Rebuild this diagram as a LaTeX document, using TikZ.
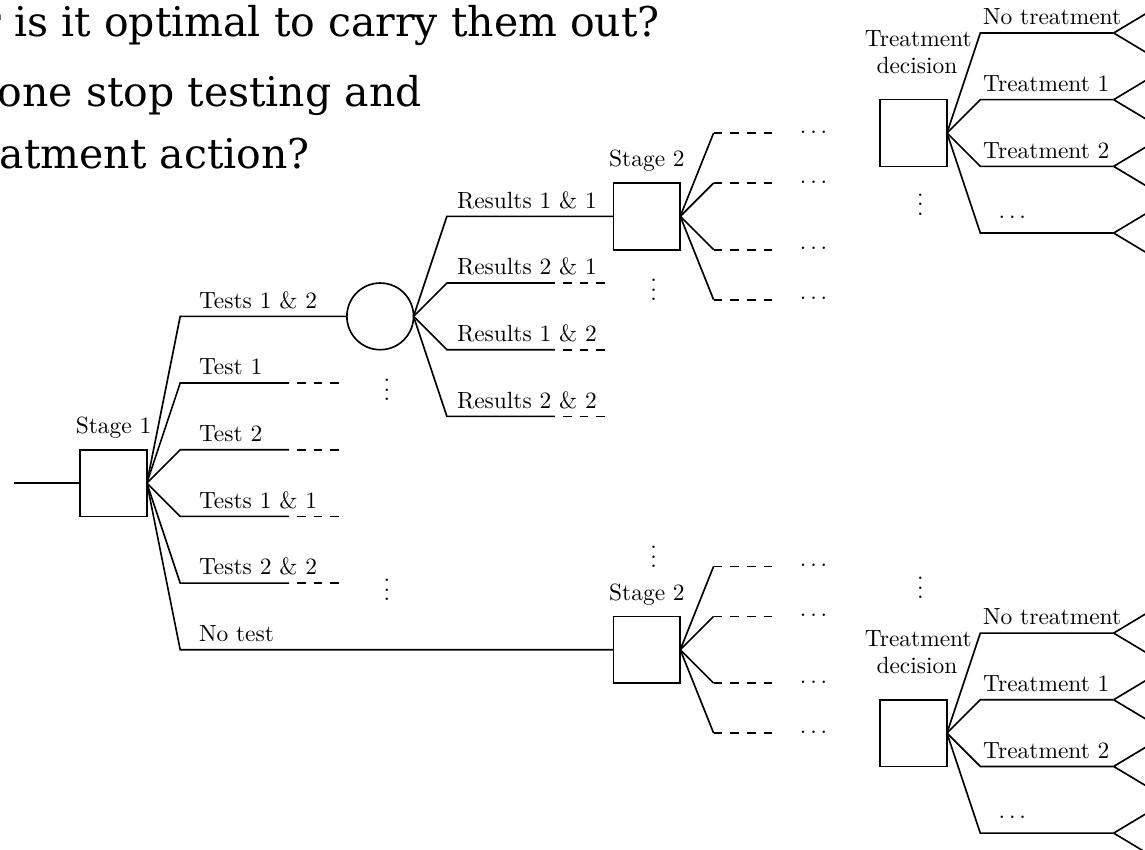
\documentclass[tikz,border=0pt]{standalone}
\usepackage{fontspec}
\newfontfamily\headfont{DejaVu Serif}
\begin{document}
\begin{tikzpicture}[
  line width=0.7pt,
  decision/.style={draw, rectangle, minimum size=1cm, inner sep=0pt, outer sep=0pt},
  chance/.style={draw, circle, minimum size=1cm, inner sep=0pt, outer sep=0pt},
  stagelabel/.style={anchor=base, inner sep=0pt},
  branchlabel/.style={anchor=base west, inner sep=0pt},
  dashtail/.style={dash pattern=on 0.13cm off 0.12cm},
  gaptail/.style={dash pattern=on 0.13cm off 0.12cm, dash phase=0.13cm},
  ellipsis/.style={inner sep=0pt},
  heading/.style={anchor=base west, inner sep=0pt, font=\headfont\fontsize{17.5}{20}\selectfont},
]
% page frame
\useasboundingbox (-1.7025,-5.49) rectangle (15.47,7.245);
\clip (-1.7025,-5.49) rectangle (15.47,7.245);
\fill[white] (-1.7025,-5.49) rectangle (15.47,7.245);

% slide heading
\node[heading] (h1) at (-1.99,6.695) {r is it optimal to carry them out?};
\node[heading] (h2) at (-1.75,5.645) {one stop testing and};
\node[heading] (h3) at (-1.72,4.72) {atment action?};

% stage 1 decision
\node[decision] (s1) at (0,0) {};
\coordinate (root) at (-1.5,0);
\draw (root) -- (s1.west);
\node[stagelabel] (s1lab) at (0,0.75) {Stage 1};

% chance node after both tests
\node[chance] (c) at (4,2.5) {};
\coordinate (k12) at (1,2.5);
\draw (s1.east) -- (k12) -- (c.west);
\node[branchlabel] (k12lab) at (1.27,2.625) {Tests 1 \& 2};

% remaining stage 1 options
\foreach \y/\n/\t in {1.5/ta/Test 1, 0.5/tb/Test 2, -0.5/tc/Tests 1 \& 1, -1.5/td/Tests 2 \& 2} {
  \coordinate (\n1) at (1,\y);
  \coordinate (\n2) at (2.632,\y);
  \coordinate (\n3) at (3.38,\y);
  \draw (s1.east) -- (\n1) -- (\n2);
  \draw[gaptail] (\n2) -- (\n3);
  \node[branchlabel] (\n-lab) at (1.27,\y+0.125) {\t};
}
\node[ellipsis] (v1) at (4.1,1.5) {$\vdots$};
\node[ellipsis] (v2) at (4.1,-1.5) {$\vdots$};

% stage 2 decisions
\node[decision] (s2a) at (8,4) {};
\node[stagelabel] (s2alab) at (8,4.75) {Stage 2};
\node[decision] (s2b) at (8,-2.5) {};
\node[stagelabel] (s2blab) at (8,-1.755) {Stage 2};
\node[ellipsis] (v3) at (8.1,3.0) {$\vdots$};
\node[ellipsis] (v4) at (8.1,-1.0) {$\vdots$};

% test results
\coordinate (r11) at (5,4);
\draw (c.east) -- (r11) -- (s2a.west);
\node[branchlabel] (r11lab) at (5.14,4.125) {Results 1 \& 1};
\foreach \y/\n/\t in {3/ra/Results 2 \& 1, 2/rb/Results 1 \& 2, 1/rc/Results 2 \& 2} {
  \coordinate (\n1) at (5,\y);
  \coordinate (\n2) at (6.62,\y);
  \coordinate (\n3) at (7.37,\y);
  \draw (c.east) -- (\n1) -- (\n2);
  \draw[gaptail] (\n2) -- (\n3);
  \node[branchlabel] (\n-lab) at (5.14,\y+0.125) {\t};
}

% no test
\coordinate (nt) at (1,-2.5);
\draw (s1.east) -- (nt) -- (s2b.west);
\node[branchlabel] (ntlab) at (1.27,-2.375) {No test};

% stage 2 continuations
\foreach \s/\yc in {s2a/4, s2b/-2.5} {
  \foreach \dy/\n in {1.25/a, 0.5/b, -0.5/c, -1.25/d} {
    \coordinate (\s\n1) at (9,\yc+\dy);
    \coordinate (\s\n2) at (9.875,\yc+\dy);
    \draw (\s.east) -- (\s\n1);
    \draw[dashtail] (\s\n1) -- (\s\n2);
    \node[ellipsis] (\s\n-dots) at (10.5,\yc+\dy+0.015) {$\dots$};
  }
}

% treatment decisions
\foreach \s/\yc in {td1/5.25, td2/-3.75} {
  \node[decision] (\s) at (12,\yc) {};
  \node[stagelabel] (\s-l1) at (12.07,\yc+1.295) {Treatment};
  \node[stagelabel] (\s-l2) at (12.05,\yc+0.895) {decision};
  \foreach \dy/\n in {1.5/a, 0.5/b, -0.5/c, -1.5/d} {
    \coordinate (\s\n1) at (13,\yc+\dy);
    \coordinate (\s\n2) at (15,\yc+\dy);
    \draw (\s.east) -- (\s\n1) -- (\s\n2);
    \draw (\s\n2) -- ++(0.5,0.3) (\s\n2) -- ++(0.5,-0.3);
  }
  \node[branchlabel] (\s-na) at (13.03,\yc+1.625) {No treatment};
  \node[branchlabel] (\s-nb) at (13.03,\yc+0.625) {Treatment 1};
  \node[branchlabel] (\s-nc) at (13.03,\yc-0.375) {Treatment 2};
  \node[ellipsis] (\s-nd) at (13.48,\yc-1.26) {$\dots$};
}
\node[ellipsis] (v5) at (12.1,4.28) {$\vdots$};
\node[ellipsis] (v6) at (12.1,-1.47) {$\vdots$};
\end{tikzpicture}
\end{document}
